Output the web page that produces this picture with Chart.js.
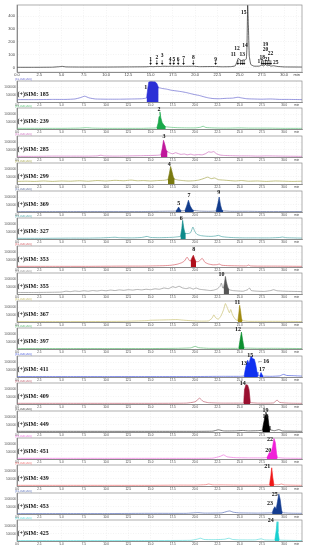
<!DOCTYPE html>
<html lang="en">
<head>
<meta charset="UTF-8">
<title>TIC and SIM chromatograms</title>
<script src="https://cdn.jsdelivr.net/npm/chart.js@4.4.1/dist/chart.umd.min.js"></script>
<style>
  html, body { margin: 0; padding: 0; background: #fff; }
  #wrap { position: relative; width: 309px; height: 550px; overflow: hidden; }
  #wrap canvas { position: absolute; left: 0; }
</style>
</head>
<body>
<div id="wrap"></div>
<script>
// ---- axis ticks ----
const xTickValues = [0, 2.5, 5, 7.5, 10, 12.5, 15, 17.5, 20, 22.5, 25, 27.5, 30, 31.4];
const xTickLabels = ['0.0', '2.5', '5.0', '7.5', '10.0', '12.5', '15.0', '17.5', '20.0', '22.5', '25.0', '27.5', '30.0', 'min'];
const ticYTicks = [0, 100, 200, 300, 400];
const simYTicks = [35, 70];
const simYTickLabels = ['500000', '1000000'];
const unitText = '(x1,000,000)';

// ---- TIC trace (top) ----
const tic = [[0,3],[2,3],[4,4],[4.8,8],[5.1,10],[5.5,6],[7,5],[10,5],[12.5,6],[14.5,7],[15,9],[15.3,8],[15.8,10],[16.1,9],[16.4,11],[17,10],[17.3,11],[17.7,10],[18.2,11],[18.7,10],[19.8,11],[20.5,8],[22.3,9],[23,7],[24,8],[24.5,14],[24.7,45],[24.85,73],[25.0,62],[25.2,55],[25.4,60],[25.6,58],[25.75,70],[25.82,160],[25.9,485],[25.98,330],[26.08,90],[26.25,25],[26.6,12],[27.2,12],[27.5,20],[27.7,14],[27.9,24],[28.1,15],[28.3,19],[28.5,12],[28.8,15],[29.2,10],[30,6],[32,5]];
const ticLabelText = ['1','2','3','4','5','6','7','8','9','11','12','13','14','15','17','18','19','20','21','22','25'];
const ticLabelT = [15.0,15.7,16.3,17.2,17.6,18.1,18.7,19.8,22.3,24.3,24.7,25.3,25.6,25.45,27.3,27.55,27.9,27.9,28.1,28.45,29.05];
const ticLabelV = [65,81,91,65,65,65,73,78,65,98,145,104,170,426,44,81,176,137,65,112,36];
const ticArrowT = [15.0,15.7,16.3,17.2,17.6,18.1,18.7,19.8,22.3,24.8,25.1,25.3,25.5,27.5,27.7,27.9,28.1,28.3,28.5];

// ---- SIM panels ----
const ions = ['185','239','285','299','369','327','353','355','367','397','411','409','449','451','439','453','425'];
const fillColors = ['#2b2fd6','#1aa84a','#c0189c','#7a7a10','#123c8c','#0e8a8a','#b0101c','#555555','#a08a10','#0e9030','#1030f0','#9a1030','#000000','#f020d8','#f01818','#143c90','#18d0d0'];
const lineColors = ['#6a6ad0','#5cc47a','#d070c0','#a8a850','#5a6a9a','#50a8a8','#d86068','#909090','#c8c070','#5cb870','#5060e0','#c06070','#404040','#f070e0','#f07070','#5a70b8','#60dcdc'];

const sim185 = [[0,13],[2,13],[4,14],[5.5,14],[6.5,16],[7.1,22],[7.6,29],[8.1,21],[8.8,16],[10,15],[11.5,15],[13,16],[14,17],[14.55,21],[15.9,68],[16.3,65],[16.8,62],[17.3,57],[18,53],[18.5,50],[19,46],[19.5,41],[20,36],[20.5,32],[21,26],[21.5,21],[22,18],[22.7,17],[23.5,19],[24.2,20],[24.8,24],[25.2,21],[25.8,17],[26.5,16],[27.5,15],[28.5,16],[29.5,14],[30.5,14],[32,13]];
const sim239 = [[0,5],[3,5],[5,5],[7,6],[7.8,8],[8.5,6],[10,5],[12,5],[14,5],[15,6],[15.7,7],[16.7,12],[17.2,10],[18,8],[19,7],[20,7],[20.6,10],[20.9,15],[21.2,9],[22,7],[23,6],[24,6],[25,7],[26,6],[28,6],[30,5],[32,5]];
const sim285 = [[0,5],[2,5],[4,6],[6,6],[8,6],[9,7],[9.4,10],[9.8,7],[11,6],[12.5,7],[14,8],[15,9],[15.8,10],[16.15,12],[16.9,26],[17.2,20],[17.5,17],[17.8,22],[18.1,18],[18.4,14],[18.8,16],[19.1,12],[19.5,15],[19.9,11],[20.3,13],[20.8,12],[21.2,18],[21.5,26],[21.8,24],[22.1,27],[22.4,17],[22.8,11],[23.3,9],[24,8],[25,7],[26,7],[27,6],[28,7],[30,6],[32,5]];
const sim299 = [[0,14],[1,15],[2,14],[3,16],[4,14],[5,16],[6,15],[7,17],[8,15],[9,18],[10,16],[11,19],[12,17],[12.8,20],[13.5,17],[14.2,18],[15,16],[15.8,18],[16.5,19],[16.95,22],[17.7,24],[18.1,20],[18.6,18],[19.2,16],[19.8,17],[20.4,20],[21,28],[21.4,34],[21.8,27],[22.2,30],[22.6,22],[23.2,20],[23.8,18],[24.5,16],[25.2,18],[26,15],[27,16],[28,14],[29,16],[30,15],[31,14],[32,15]];
const sim369 = [[0,4],[5,4],[10,4],[14,4],[16,5],[17.85,6],[18.45,7],[18.85,8],[19.85,9],[20.5,6],[21.5,5],[22.35,6],[23.15,7],[24,5],[26,5],[28,4],[32,4]];
const sim327 = [[0,5],[3,5],[6,6],[8,6],[9.5,7],[10.5,9],[11,10],[11.5,8],[13,7],[14,9],[14.6,14],[15,9],[16,8],[17,9],[17.6,10],[18,12],[18.35,14],[18.95,28],[19.2,27],[19.5,32],[19.75,58],[19.95,38],[20.2,24],[20.6,18],[21.2,15],[21.8,14],[22.3,16],[22.6,19],[23,13],[23.6,10],[24.5,8],[25.5,7],[27,7],[28.5,7],[29.5,9],[29.8,11],[30.2,8],[31,7],[32,6]];
const sim353 = [[0,5],[4,5],[8,5],[12,6],[14,6],[15.5,7],[16.5,8],[17.3,10],[18,15],[18.5,22],[18.8,30],[19.1,48],[19.35,32],[19.5,30],[20.1,26],[20.4,28],[20.8,42],[21.1,24],[21.5,16],[22,12],[22.5,13],[22.7,16],[23,10],[23.8,8],[25,7],[25.8,7],[26,11],[26.2,7],[27,6],[29,6],[32,5]];
const sim355 = [[0,9],[2,9],[4,10],[5,11],[5.5,15],[6,13],[6.5,16],[7,14],[7.5,17],[8,15],[8.5,18],[9,16],[9.5,19],[10,17],[10.5,20],[11,18],[11.5,21],[12,19],[12.5,22],[13,20],[13.5,23],[14,21],[14.5,24],[15,22],[15.5,26],[16,24],[16.5,30],[17,27],[17.5,36],[17.8,32],[18.2,38],[18.6,30],[19,27],[19.4,31],[19.8,25],[20.1,30],[20.5,24],[20.9,22],[21.3,20],[21.7,18],[22.1,20],[22.5,26],[22.8,38],[22.95,53],[23.1,30],[23.2,30],[23.8,22],[24.2,18],[24.8,16],[25.4,15],[25.9,22],[26.1,30],[26.3,18],[27,15],[27.8,14],[28.5,18],[28.8,22],[29.2,17],[30,15],[31,14],[32,13]];
const sim367 = [[0,4],[4,4],[8,4],[12,5],[14.5,8],[15,10],[16,11],[17,12],[18,13],[18.5,11],[19.5,8],[20.5,6],[21.5,7],[21.9,20],[22.1,35],[22.3,22],[22.6,15],[22.9,30],[23.2,60],[23.4,88],[23.6,70],[23.85,45],[24.0,60],[24.2,35],[24.5,15],[24.8,8],[25.3,8],[26,5],[28,5],[30,5],[32,4]];
const sim397 = [[0,4],[5,4],[10,4],[15,4],[18,5],[19.5,7],[20,14],[20.4,8],[21.5,5],[23,5],[24.9,5],[25.5,6],[27,5],[29,5],[32,4]];
const sim411 = [[0,4],[5,4],[10,4],[15,4],[20,4],[23,5],[25,5],[25.5,6],[27.05,8],[27.25,6],[27.65,6],[28.5,5],[29.5,7],[29.9,14],[30.3,9],[31,8],[32,6]];
const sim409 = [[0,5],[5,5],[10,5],[15,5],[19,6],[20,12],[20.5,29],[20.9,14],[21.5,8],[23,6],[25,6],[25.45,6],[26.2,8],[27,6],[28.8,7],[29.2,20],[29.5,9],[30.5,6],[32,5]];
const sim449 = [[0,5],[5,5],[10,5],[15,5],[20,5],[22,6],[22.6,12],[23.2,7],[24.5,7],[25.3,9],[26,7],[27,8],[27.55,10],[28.4,12],[28.9,8],[29.4,13],[29.8,7],[31,6],[32,5]];
const sim451 = [[0,5],[5,5],[10,5],[15,5],[20,5],[22,6],[22.8,14],[23.2,21],[23.6,12],[24.5,8],[26,7],[27.5,7],[28.05,8],[29.25,8],[30,6],[32,5]];
const sim439 = [[0,5],[5,5],[10,5],[15,5],[18,6],[20,6],[21.2,8],[21.5,11],[22,7],[23,7],[25,6],[27,6],[28.35,7],[28.85,8],[29.4,8],[29.7,11],[30,7],[32,5]];
const sim453 = [[0,4],[5,4],[10,4],[15,5],[19,5],[20.3,8],[21,6],[23,7],[23.6,14],[23.9,16],[24.3,10],[25,7],[27,6],[28.65,7],[29.8,8],[30.5,6],[32,5]];
const sim425 = [[0,4],[5,4],[10,4],[15,4],[19.5,5],[20.2,10],[20.6,15],[21,9],[22,8],[23.3,10],[23.8,15],[24.2,9],[25,7],[26.8,7],[27.4,12],[27.8,7],[28.95,6],[29.45,6],[30.5,5],[32,4]];

// integrated (filled) peaks
const peak1 = [[14.55,21],[14.7,70],[14.8,95],[15.0,98],[15.3,97],[15.5,96],[15.7,88],[15.9,68]];
const peak2 = [[15.7,7],[15.85,30],[15.95,60],[16.05,82],[16.15,55],[16.3,32],[16.5,20],[16.7,12]];
const peak3 = [[16.15,12],[16.3,40],[16.45,80],[16.6,60],[16.75,35],[16.9,26]];
const peak4 = [[16.95,22],[17.1,50],[17.25,84],[17.4,60],[17.55,35],[17.7,24]];
const peak5 = [[17.85,6],[18.0,15],[18.15,25],[18.3,14],[18.45,7]];
const peak7 = [[18.85,8],[19.05,30],[19.25,57],[19.45,30],[19.7,12],[19.85,9]];
const peak9 = [[22.35,6],[22.55,40],[22.7,72],[22.85,35],[23.0,12],[23.15,7]];
const peak6 = [[18.35,14],[18.5,50],[18.6,89],[18.72,55],[18.85,30],[18.95,28]];
const peak8 = [[19.5,30],[19.65,45],[19.8,57],[19.95,40],[20.1,26]];
const peak10 = [[23.2,30],[23.3,55],[23.4,84],[23.5,60],[23.65,35],[23.8,22]];
const peak11 = [[24.8,8],[24.9,40],[25.0,80],[25.1,55],[25.2,20],[25.3,8]];
const peak12 = [[24.9,5],[25.05,45],[25.2,81],[25.35,40],[25.5,6]];
const peak13to16 = [[25.5,6],[25.6,30],[25.75,60],[25.9,80],[26.05,65],[26.2,90],[26.3,100],[26.45,88],[26.65,85],[26.8,60],[26.95,25],[27.05,8]];
const peak17 = [[27.25,6],[27.4,23],[27.55,10],[27.65,6]];
const peak14 = [[25.45,6],[25.55,70],[25.7,92],[25.9,90],[26.05,70],[26.2,8]];
const peak18to19 = [[27.55,10],[27.65,35],[27.75,55],[27.85,80],[27.95,95],[28.05,70],[28.15,80],[28.3,30],[28.4,12]];
const peak20to22 = [[28.05,8],[28.2,20],[28.35,33],[28.5,30],[28.7,60],[28.85,98],[29.0,80],[29.15,25],[29.25,8]];
const peak21 = [[28.35,7],[28.5,50],[28.6,87],[28.72,40],[28.85,8]];
const peak23to25 = [[28.65,7],[28.8,25],[28.95,36],[29.1,25],[29.25,60],[29.4,95],[29.55,70],[29.7,20],[29.8,8]];
const peak24 = [[28.95,6],[29.1,50],[29.2,92],[29.3,45],[29.45,6]];

const traces = [sim185, sim239, sim285, sim299, sim369, sim327, sim353, sim355, sim367, sim397, sim411, sim409, sim449, sim451, sim439, sim453, sim425];
const peaks = [[peak1],[peak2],[peak3],[peak4],[peak5,peak7,peak9],[peak6],[peak8],[peak10],[peak11],[peak12],[peak13to16,peak17],[peak14],[peak18to19],[peak20to22],[peak21],[peak23to25],[peak24]];
// peak number labels: [text, time, intensity]
const peakLabels = [
  [['1',14.45,72]],
  [['2',15.95,93]],
  [['3',16.5,99]],
  [['4',17.1,93]],
  [['5',18.15,41],['7',19.3,80],['9',22.65,93]],
  [['6',18.45,100]],
  [['8',19.85,85]],
  [['10',22.95,95]],
  [['11',24.75,93]],
  [['12',24.8,91]],
  [['13',25.5,67],['15',26.2,104],['\u219016',27.65,76],['17',27.5,36]],
  [['14',25.35,99]],
  [['19',27.9,102],['18',27.9,74]],
  [['22',28.4,91],['20',28.2,41]],
  [['21',28.1,94]],
  [['25',28.95,93],['23',28.4,52]],
  [['24',28.5,97]]
];

const pts = a => a.map(([x, y]) => ({x, y}));

// frame, ion captions, peak numbers, arrows
const decor = {
  id: 'decor',
  afterDatasetsDraw(chart, args, o) {
    const {ctx, chartArea: a, scales: {x, y}} = chart;
    ctx.save();
    ctx.strokeStyle = '#8c8c8c';
    ctx.lineWidth = 0.7;
    ctx.strokeRect(a.left, a.top, a.right - a.left, a.bottom - a.top);
    if (o.ion) {
      ctx.fillStyle = o.color;
      ctx.font = '3px "Liberation Sans"';
      ctx.textAlign = 'left';
      ctx.textBaseline = 'bottom';
      ctx.fillText(unitText, a.left - 2, a.top - 0.3);
      ctx.fillStyle = '#111';
      ctx.font = 'bold 6px "Liberation Serif"';
      ctx.textBaseline = 'middle';
      ctx.fillText('(+)SIM: ' + o.ion, a.left + 0.5, a.bottom - 7.5);
    }
    ctx.fillStyle = '#111';
    ctx.font = 'bold ' + (o.fontSize || 6) + 'px "Liberation Serif"';
    ctx.textAlign = 'center';
    ctx.textBaseline = 'middle';
    (o.labels || []).forEach(([t, tt, v]) => {
      ctx.fillText(t, x.getPixelForValue(tt), y.getPixelForValue(v));
    });
    (o.arrows || []).forEach(tt => {
      const px = x.getPixelForValue(tt), py = y.getPixelForValue(o.arrowTip);
      ctx.strokeStyle = '#111';
      ctx.lineWidth = 0.6;
      ctx.beginPath(); ctx.moveTo(px, py - 5); ctx.lineTo(px, py - 1.5); ctx.stroke();
      ctx.beginPath(); ctx.moveTo(px - 1.3, py - 2); ctx.lineTo(px + 1.3, py - 2); ctx.lineTo(px, py); ctx.closePath(); ctx.fill();
    });
    ctx.restore();
  }
};

function xScale(fontSize) {
  return {
    type: 'linear', min: 0, max: 32,
    afterBuildTicks: s => { s.ticks = xTickValues.map(v => ({value: v})); },
    ticks: {
      autoSkip: false, maxRotation: 0, padding: 0.5, color: '#444',
      font: {size: fontSize, family: 'Liberation Sans'},
      callback: (v, i) => xTickLabels[i]
    },
    grid: {color: '#e6e6e6', lineWidth: 0.5, drawTicks: false},
    border: {color: '#8c8c8c', dash: [1, 1.5]}
  };
}

const wrap = document.getElementById('wrap');
function addCanvas(top, h) {
  const c = document.createElement('canvas');
  c.width = 309; c.height = h;
  c.style.top = top + 'px';
  c.style.width = '309px'; c.style.height = h + 'px';
  wrap.appendChild(c);
  return c;
}

// top TIC chart
new Chart(addCanvas(0, 78), {
  type: 'line',
  data: {datasets: [{data: pts(tic), borderColor: '#222', borderWidth: 0.7, pointRadius: 0, tension: 0.1, fill: false}]},
  options: {
    responsive: false, animation: false, devicePixelRatio: 1,
    layout: {padding: {top: 5, right: 7, left: 0, bottom: 0}},
    plugins: {
      legend: {display: false}, tooltip: {enabled: false},
      decor: {
        labels: ticLabelText.map((t, i) => [t, ticLabelT[i], ticLabelV[i]]),
        arrows: ticArrowT, arrowTip: 20, fontSize: 5.5
      }
    },
    scales: {
      x: xScale(4),
      y: {
        min: -35, max: 486,
        afterFit: s => { s.width = 17; },
        afterBuildTicks: s => { s.ticks = ticYTicks.map(v => ({value: v})); },
        ticks: {padding: 2, color: '#444', font: {size: 4, family: 'Liberation Sans'}},
        grid: {color: '#e6e6e6', lineWidth: 0.5, drawTicks: false},
        border: {color: '#8c8c8c', dash: [1, 1.5]}
      }
    }
  },
  plugins: [decor]
});

// SIM panels
ions.forEach((ion, i) => {
  const datasets = [{
    data: pts(traces[i]), borderColor: lineColors[i], borderWidth: 0.7,
    pointRadius: 0, tension: 0.15, fill: false, order: 2
  }];
  peaks[i].forEach(p => datasets.push({
    data: pts(p), borderColor: fillColors[i], backgroundColor: fillColors[i],
    borderWidth: 0.6, pointRadius: 0, tension: 0, fill: 'origin', order: 1
  }));
  new Chart(addCanvas(Math.round(78 + 27.46 * i), 29), {
    type: 'line',
    data: {datasets},
    options: {
      responsive: false, animation: false, devicePixelRatio: 1,
      layout: {padding: {top: 3, right: 7, left: 0, bottom: 0}},
      plugins: {
        legend: {display: false}, tooltip: {enabled: false},
        decor: {ion, color: lineColors[i], labels: peakLabels[i]}
      },
      scales: {
        x: xScale(3),
        y: {
          min: 0, max: 100,
          afterFit: s => { s.width = 17; },
          afterBuildTicks: s => { s.ticks = simYTicks.map(v => ({value: v})); },
          ticks: {padding: 1, color: '#555', font: {size: 3, family: 'Liberation Sans'},
                  callback: (v, k) => simYTickLabels[k]},
          grid: {color: '#e6e6e6', lineWidth: 0.5, drawTicks: false},
          border: {color: '#8c8c8c', dash: [1, 1.5]}
        }
      }
    },
    plugins: [decor]
  });
});
</script>
</body>
</html>
